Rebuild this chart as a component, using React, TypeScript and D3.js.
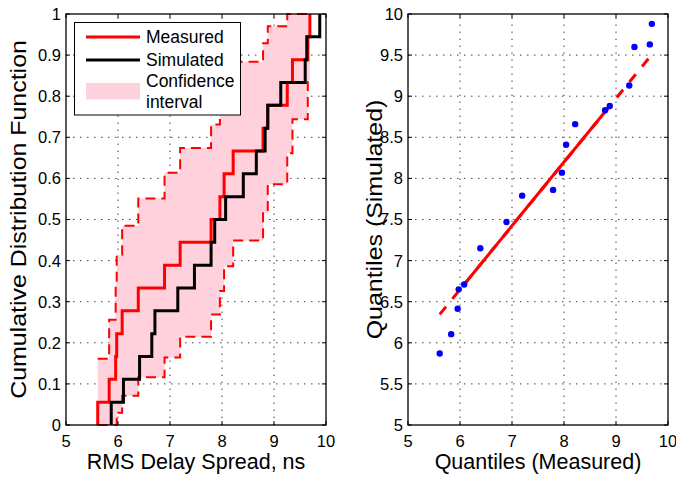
import React from "react";
import * as d3 from "d3";

// Sorted RMS delay spread samples (ns)
const measuredSpread = [5.61, 5.83, 5.955, 5.975, 6.08, 6.39, 6.895, 7.195, 7.79, 7.96, 8.04, 8.215, 8.79, 8.88, 9.255, 9.355, 9.65, 9.69];
const simulatedSpread = [5.87, 6.105, 6.415, 6.65, 6.71, 7.15, 7.47, 7.79, 7.86, 8.07, 8.41, 8.66, 8.83, 8.88, 9.13, 9.6, 9.63, 9.88];

// 95% confidence bounds on the measured empirical CDF, one per step
const lowerBound = [0, 0, 0, 0.03, 0.071, 0.116, 0.164, 0.215, 0.269, 0.326, 0.386, 0.449, 0.515, 0.586, 0.661, 0.744, 0.839];
const upperBound = [0.161, 0.256, 0.339, 0.414, 0.485, 0.551, 0.614, 0.674, 0.731, 0.785, 0.836, 0.884, 0.929, 0.97, 1, 1, 1];

const xTicks = [5, 6, 7, 8, 9, 10];
const cdfTicks = [0, 0.1, 0.2, 0.3, 0.4, 0.5, 0.6, 0.7, 0.8, 0.9, 1];
const qqTicks = [5, 5.5, 6, 6.5, 7, 7.5, 8, 8.5, 9, 9.5, 10];

const FONT = "'Liberation Sans', Arial, Helvetica, sans-serif";
const TICK_FS = 16.5;
const LABEL_FS = 21.5;
const VLABEL_STRETCH = 1.16;

const top = 14;
const bottom = 425;
const leftPanel = { x0: 66, x1: 326 };
const rightPanel = { x0: 408, x1: 668 };

type Pt = { x: number; y: number };

function quantile(sorted: number[], p: number) {
  // MATLAB-style percentile: sample i sits at (i - 0.5) / n
  const n = sorted.length;
  const pos = n * p + 0.5;
  const i = Math.floor(pos);
  const f = pos - i;
  if (i < 1) return sorted[0];
  if (i >= n) return sorted[n - 1];
  return sorted[i - 1] + f * (sorted[i] - sorted[i - 1]);
}

function Frame({ x0, x1, xs, ys, xScale, yScale, yFmt }: any) {
  const tick = 4;
  return (
    <g>
      {xs.map((v: number) => (
        <g key={"x" + v}>
          <line x1={xScale(v)} x2={xScale(v)} y1={bottom} y2={bottom - tick} stroke="#000" />
          <line x1={xScale(v)} x2={xScale(v)} y1={top} y2={top + tick} stroke="#000" />
          <text x={xScale(v)} y={447} textAnchor="middle" fontSize={TICK_FS} fontFamily={FONT}>
            {v}
          </text>
        </g>
      ))}
      {ys.map((v: number) => (
        <g key={"y" + v}>
          <line x1={x0} x2={x0 + tick} y1={yScale(v)} y2={yScale(v)} stroke="#000" />
          <line x1={x1} x2={x1 - tick} y1={yScale(v)} y2={yScale(v)} stroke="#000" />
          <text x={x0 - 5} y={yScale(v)} dy="0.36em" textAnchor="end" fontSize={TICK_FS} fontFamily={FONT}>
            {yFmt(v)}
          </text>
        </g>
      ))}
      <rect x={x0} y={top} width={x1 - x0} height={bottom - top} fill="none" stroke="#000" strokeWidth={1.3} />
    </g>
  );
}

function Grid({ x0, x1, xs, ys, xScale, yScale }: any) {
  const dash = "1.5,5.5";
  return (
    <g stroke="#444" strokeWidth={1} strokeDasharray={dash}>
      {xs.slice(1, -1).map((v: number) => (
        <line key={"gx" + v} x1={xScale(v)} x2={xScale(v)} y1={bottom} y2={top} />
      ))}
      {ys.slice(1, -1).map((v: number) => (
        <line key={"gy" + v} x1={x0} x2={x1} y1={yScale(v)} y2={yScale(v)} />
      ))}
    </g>
  );
}

export default function App() {
  const n = measuredSpread.length;

  // Left panel: empirical CDFs
  const xL = d3.scaleLinear().domain([5, 10]).range([leftPanel.x0, leftPanel.x1]);
  const yL = d3.scaleLinear().domain([0, 1]).range([bottom, top]);

  const ecdfPoints = (s: number[]): Pt[] => [{ x: s[0], y: 0 }, ...s.map((x, i) => ({ x, y: (i + 1) / n }))];
  const stair = d3
    .line<Pt>()
    .x((d) => xL(d.x))
    .y((d) => yL(d.y))
    .curve(d3.curveStepAfter);

  const boundPts = (b: number[]): Pt[] => [
    ...b.map((v, i) => ({ x: measuredSpread[i], y: v })),
    { x: measuredSpread[n - 1], y: b[b.length - 1] },
  ];
  const bandData = [
    ...lowerBound.map((lo, i) => ({ x: measuredSpread[i], lo, hi: upperBound[i] })),
    { x: measuredSpread[n - 1], lo: lowerBound[lowerBound.length - 1], hi: upperBound[upperBound.length - 1] },
  ];
  const band = d3
    .area<{ x: number; lo: number; hi: number }>()
    .x((d) => xL(d.x))
    .y0((d) => yL(d.lo))
    .y1((d) => yL(d.hi))
    .curve(d3.curveStepAfter);

  // Right panel: Q-Q plot
  const xR = d3.scaleLinear().domain([5, 10]).range([rightPanel.x0, rightPanel.x1]);
  const yR = d3.scaleLinear().domain([5, 10]).range([bottom, top]);
  const q1x = quantile(measuredSpread, 0.25);
  const q3x = quantile(measuredSpread, 0.75);
  const q1y = quantile(simulatedSpread, 0.25);
  const q3y = quantile(simulatedSpread, 0.75);
  const slope = (q3y - q1y) / (q3x - q1x);
  const fit = (x: number) => q1y + slope * (x - q1x);
  const xMin = d3.min(measuredSpread)!;
  const xMax = d3.max(measuredSpread)!;

  const pink = "#ffd1dd";
  const midY = (top + bottom) / 2;

  return (
    <svg width={676} height={477} style={{ position: "absolute", left: 0, top: 0, background: "#fff" }}>
      <rect width={676} height={477} fill="#fff" />

      {/* CDF panel */}
      <Grid x0={leftPanel.x0} x1={leftPanel.x1} xs={xTicks} ys={cdfTicks} xScale={xL} yScale={yL} />
      <path d={band(bandData)!} fill={pink} stroke="none" />
      <path d={stair(boundPts(upperBound))!} fill="none" stroke="#ff0000" strokeWidth={2} strokeDasharray="10,6" />
      <path d={stair(boundPts(lowerBound))!} fill="none" stroke="#ff0000" strokeWidth={2} strokeDasharray="10,6" />
      <path d={stair(ecdfPoints(measuredSpread))!} fill="none" stroke="#ff0000" strokeWidth={3} />
      <path d={stair(ecdfPoints(simulatedSpread))!} fill="none" stroke="#000" strokeWidth={3} />
      <Frame
        x0={leftPanel.x0}
        x1={leftPanel.x1}
        xs={xTicks}
        ys={cdfTicks}
        xScale={xL}
        yScale={yL}
        yFmt={(v: number) => String(v)}
      />

      {/* legend */}
      <g fontFamily={FONT} fontSize={17.5}>
        <rect x={74.5} y={22.5} width={166} height={92.5} fill="#fff" stroke="#000" strokeWidth={1} />
        <line x1={86} x2={140} y1={37} y2={37} stroke="#ff0000" strokeWidth={3} />
        <text x={146} y={43.3}>Measured</text>
        <line x1={86} x2={140} y1={60} y2={60} stroke="#000" strokeWidth={3} />
        <text x={146} y={65.7}>Simulated</text>
        <rect x={86} y={83} width={54} height={16.5} fill={pink} />
        <text x={146} y={87.3}>Confidence</text>
        <text x={146} y={108.3}>interval</text>
      </g>

      <text x={196} y={469} textAnchor="middle" fontSize={LABEL_FS} fontFamily={FONT}>
        RMS Delay Spread, ns
      </text>
      <text
        transform={`translate(26,${midY}) rotate(-90) scale(${VLABEL_STRETCH},1)`}
        textAnchor="middle"
        fontSize={LABEL_FS}
        fontFamily={FONT}
      >
        Cumulative Distribution Function
      </text>

      {/* Q-Q panel */}
      <Grid x0={rightPanel.x0} x1={rightPanel.x1} xs={xTicks} ys={qqTicks} xScale={xR} yScale={yR} />
      <line
        x1={xR(xMin)}
        y1={yR(fit(xMin))}
        x2={xR(xMax)}
        y2={yR(fit(xMax))}
        stroke="#ff0000"
        strokeWidth={3}
        strokeDasharray="10,10"
      />
      <line x1={xR(q1x)} y1={yR(q1y)} x2={xR(q3x)} y2={yR(q3y)} stroke="#ff0000" strokeWidth={3} />
      {measuredSpread.map((m, i) => (
        <circle key={i} cx={xR(m)} cy={yR(simulatedSpread[i])} r={3.2} fill="#0000ff" />
      ))}
      <Frame
        x0={rightPanel.x0}
        x1={rightPanel.x1}
        xs={xTicks}
        ys={qqTicks}
        xScale={xR}
        yScale={yR}
        yFmt={(v: number) => String(v)}
      />
      <text x={538} y={469} textAnchor="middle" fontSize={LABEL_FS} fontFamily={FONT}>
        Quantiles (Measured)
      </text>
      <text
        transform={`translate(382,${midY}) rotate(-90) scale(${VLABEL_STRETCH},1)`}
        textAnchor="middle"
        fontSize={LABEL_FS}
        fontFamily={FONT}
      >
        Quantiles (Simulated)
      </text>
    </svg>
  );
}
